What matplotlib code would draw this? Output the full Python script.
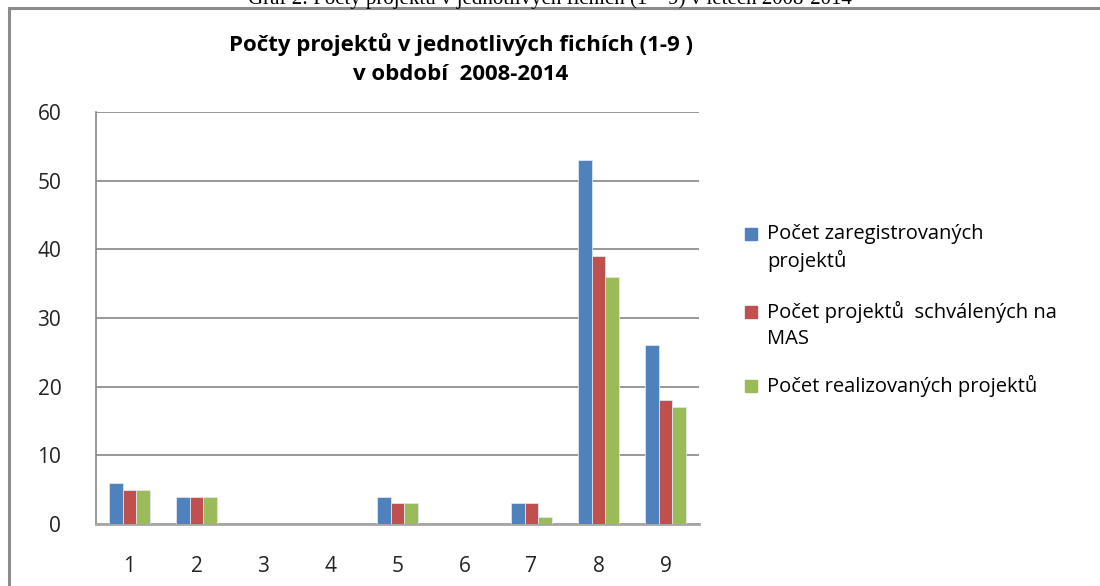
import matplotlib
matplotlib.use("Agg")
import matplotlib.pyplot as plt
import numpy as np
from matplotlib.patches import Rectangle

# ── Data ─────────────────────────────────────────────────────────────────────
categories = ["1", "2", "3", "4", "5", "6", "7", "8", "9"]
registered = [6, 4, 0, 0, 4, 0, 3, 53, 26]
approved   = [5, 4, 0, 0, 3, 0, 3, 39, 18]
realized   = [5, 4, 0, 0, 3, 0, 1, 36, 17]

series_labels = [
    "Počet zaregistrovaných\nprojektů",
    "Počet projektů  schválených na\nMAS",
    "Počet realizovaných projektů",
]
colors = ["#4F81BD", "#C0504D", "#9BBB59"]
y_ticks = [0, 10, 20, 30, 40, 50, 60]

W, H = 1100, 586
fig = plt.figure(figsize=(W / 100, H / 100), dpi=100)
font = "Open Sans"

# ── Outer chart frame (runs off right/bottom edge) ──────────────────────────
fig.patches.append(Rectangle((9 / W, -0.05), 1.2, 1 - 8 / H + 0.05,
                             transform=fig.transFigure, fill=False,
                             edgecolor="#8C8C8C", linewidth=2.2, zorder=0))

# caption of the document, cut off at top
fig.text(0.5, 1 - 4 / H,
         "Graf 2: Počty projektů v jednotlivých fichích (1 – 9) v letech 2008-2014",
         ha="center", va="baseline", fontsize=15, family="Liberation Serif",
         color="black")

# ── Plot area ────────────────────────────────────────────────────────────────
left, right = 96 / W, 699 / W
bottom, top = 1 - 524 / H, 1 - 112 / H
ax = fig.add_axes([left, bottom, right - left, top - bottom])

x = np.arange(len(categories))
bw = 0.2
for i, (vals, c) in enumerate(zip([registered, approved, realized], colors)):
    ax.bar(x + (i - 1) * bw, vals, width=bw, color=c,
           edgecolor="#DCE6F2", linewidth=0.6, zorder=3)

ax.set_xlim(-0.5, len(categories) - 0.5)
ax.set_ylim(0, 60)
ax.set_yticks(y_ticks)
ax.set_xticks(x)
ax.set_xticklabels(categories)
ax.grid(axis="y", color="#868686", linewidth=1.2, zorder=0)
ax.tick_params(length=0, labelsize=15, colors="#222222")
ax.tick_params(axis="x", pad=23)
ax.tick_params(axis="y", pad=25)
for lab in ax.get_xticklabels() + ax.get_yticklabels():
    lab.set_family(font)
for s in ["top", "right"]:
    ax.spines[s].set_visible(False)
ax.spines["left"].set_color("#868686")
ax.spines["left"].set_linewidth(1.2)
ax.spines["bottom"].set_color("#A6A6A6")
ax.spines["bottom"].set_linewidth(2)

# ── Title ────────────────────────────────────────────────────────────────────
fig.text(461 / W, 1 - 45 / H, "Počty projektů v jednotlivých fichích (1-9 )",
         ha="center", va="center", fontsize=16, fontweight="bold",
         family=font)
fig.text(461 / W, 1 - 75 / H, "v období  2008-2014",
         ha="center", va="center", fontsize=16, fontweight="bold",
         family=font)

# ── Legend ───────────────────────────────────────────────────────────────────
leg_y = [234, 312, 386]
for lab, c, yy in zip(series_labels, colors, leg_y):
    fig.patches.append(Rectangle((745 / W, 1 - (yy + 6) / H), 12 / W, 12 / H,
                                 transform=fig.transFigure, color=c))
    for k, line in enumerate(lab.split("\n")):
        fig.text(767 / W, 1 - (yy + 27 * k) / H, line, ha="left",
                 va="center", fontsize=14.5, family=font, color="black")

fig.savefig("out.png", dpi=100)
